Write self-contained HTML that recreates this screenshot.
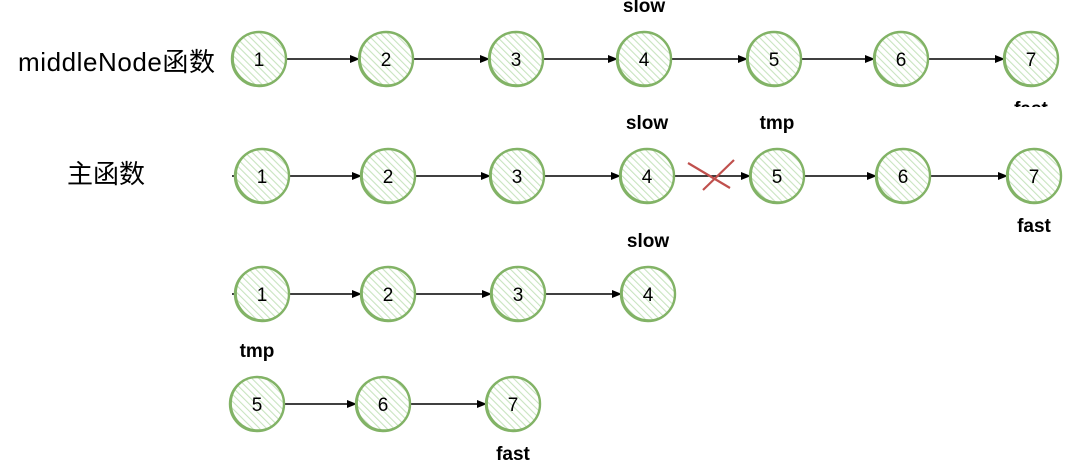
<!DOCTYPE html>
<html><head><meta charset="utf-8"><style>
html,body{margin:0;padding:0;background:#fff;width:1066px;height:464px;overflow:hidden}
svg{display:block}
text{font-family:"Liberation Sans","Noto Sans CJK SC",sans-serif;fill:#000}
</style></head><body>
<svg id="d" width="1066" height="464" viewBox="0 0 1066 464">
<defs>
<pattern id="hatch" width="5" height="5" patternUnits="userSpaceOnUse" patternTransform="rotate(-45)">
<line x1="0" y1="0" x2="0" y2="5" stroke="#c8e4bf" stroke-width="2.2"/>
</pattern>
<marker id="arr" markerWidth="10" markerHeight="8" refX="9" refY="4" orient="auto" markerUnits="userSpaceOnUse">
<path d="M0,0 L10,4 L0,8 Z" fill="#000"/>
</marker>
<clipPath id="clipTop"><rect x="0" y="0" width="1066" height="107"/></clipPath>
</defs>
<text x="18" y="71" font-size="26" textLength="197">middleNode函数</text>
<text x="67" y="183" font-size="26">主函数</text>
<g id="rows"></g>
<line x1="688" y1="163" x2="730" y2="188" stroke="#c0504d" stroke-width="2.2"/>
<line x1="703" y1="190" x2="734" y2="160" stroke="#c0504d" stroke-width="2.2"/>
</svg>
<script>
const rowY = [59, 176, 294, 404];
const rowX = [
  [259, 386, 516, 644, 774, 901, 1031],
  [262, 388, 517, 647, 777, 903, 1034],
  [262, 388, 518, 648],
  [257, 383, 513]
];
const rowVals = [
  ["1","2","3","4","5","6","7"],
  ["1","2","3","4","5","6","7"],
  ["1","2","3","4"],
  ["5","6","7"]
];
const labelText = ["slow","fast","slow","tmp","fast","slow","tmp","fast"];
const labelRow = [0,0,1,1,1,2,3,3];
const labelNode = [3,6,3,4,6,3,0,2];
const labelAbove = [1,0,1,1,0,1,1,0];
const ns="http://www.w3.org/2000/svg";
const g=document.getElementById('rows');
const R=27;
function mk(t,a){const e=document.createElementNS(ns,t);for(const k in a)e.setAttribute(k,a[k]);return e;}
rowY.forEach((y,ri)=>{
  const xs=rowX[ri];
  if(ri===1||ri===2){
    const s=mk('line',{x1:xs[0]-R-3,y1:y,x2:xs[0]-R,y2:y,stroke:'#000','stroke-width':1.5});
    
    
    g.appendChild(s);
  }
  for(let i=0;i<xs.length-1;i++){
    const a=mk('line',{x1:xs[i]+R,y1:y,x2:xs[i+1]-R,y2:y,stroke:'#000','stroke-width':1.5,'marker-end':'url(#arr)'});
    
    
    g.appendChild(a);
  }
  xs.forEach((x,i)=>{
    const n=mk('g',{});
    
    
    n.appendChild(mk('circle',{cx:x,cy:y,r:R,fill:'url(#hatch)',stroke:'#82b366','stroke-width':2.4}));
    n.appendChild(mk('circle',{cx:x+0.8,cy:y-0.6,r:R-0.5,fill:'none',stroke:'#82b366','stroke-width':1.2}));
    const t=mk('text',{x:x,y:y+7,'font-size':19,'text-anchor':'middle'});
    t.textContent=rowVals[ri][i];
    n.appendChild(t);
    g.appendChild(n);
  });
});
labelText.forEach((s,k)=>{
  const ri=labelRow[k], x=rowX[ri][labelNode[k]], y=rowY[ri];
  const t=mk('text',{x:x,y:labelAbove[k]?y-47:y+56,'font-size':19,'font-weight':'bold','text-anchor':'middle'});
  t.textContent=s;
  
  
  if(ri===0) t.setAttribute('clip-path','url(#clipTop)');
  g.appendChild(t);
});
</script>
</body></html>
